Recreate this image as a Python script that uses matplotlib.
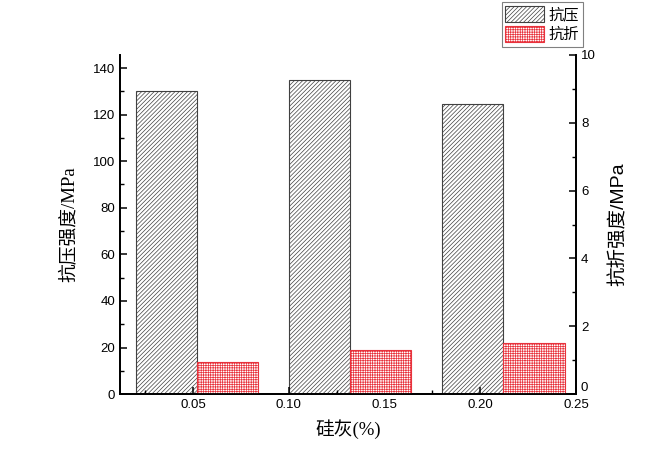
import numpy as np
import matplotlib.pyplot as plt
from matplotlib.ticker import MultipleLocator

plt.rcParams['font.family'] = ['Liberation Sans', 'Noto Sans CJK SC']
plt.rcParams['hatch.linewidth'] = 0.5

# data
silica = [0.052, 0.132, 0.212]          # group positions on the x axis
compressive = [130, 135, 124.5]         # MPa
flexural = [0.96, 1.30, 1.51]           # MPa
bar_w = 0.032

fig = plt.figure(figsize=(6.72, 4.72), dpi=100)
ax = fig.add_axes([0.1786, 0.165, 0.6786, 0.7185])
ax2 = ax.twinx()

x = np.array(silica)
b1 = ax.bar(x - bar_w / 2, compressive, width=bar_w, facecolor='white',
            edgecolor='#404040', hatch='////////', linewidth=0.8, label='抗压')
b2 = ax2.bar(x + bar_w / 2, flexural, width=bar_w, facecolor='white',
             edgecolor='#e8323c', hatch='+++++++', linewidth=0.8, label='抗折')

ax.set_xlim(0.0118, 0.25)
ax.set_ylim(0, 145.6)
ax2.set_ylim(0, 10)

ax.set_xticks([0.05, 0.10, 0.15, 0.20, 0.25])
ax.set_xticklabels(['0.05', '0.10', '0.15', '0.20', '0.25'])
ax.xaxis.set_minor_locator(MultipleLocator(0.025))
ax.set_yticks(range(0, 141, 20))
ax.yaxis.set_minor_locator(MultipleLocator(10))
ax2.set_yticks(range(0, 11, 2))
ax2.yaxis.set_minor_locator(MultipleLocator(1))

for a in (ax, ax2):
    a.spines['top'].set_visible(False)
    for s in a.spines.values():
        s.set_linewidth(1.3)
    a.tick_params(which='major', direction='in', length=5, width=1.1, labelsize=9.5)
    a.tick_params(which='minor', direction='in', length=3, width=1.0)
ax.tick_params(axis='x', which='both', top=False)

# the right-hand "0" sits a little higher in the original
ax2.yaxis.get_major_ticks()[0].label2.set_verticalalignment('bottom')

ax.set_ylabel('抗压强度/MPa', fontsize=13.5, family=['Liberation Serif', 'Noto Sans CJK SC'],
              labelpad=10)
ax2.set_ylabel('抗折强度/MPa', fontsize=14, labelpad=10)
ax.set_xlabel('硅灰(%)', fontsize=13.5, family=['Liberation Serif', 'Noto Sans CJK SC'],
              labelpad=6)

leg = fig.legend(handles=[b1, b2], loc='upper right', bbox_to_anchor=(0.868, 0.995),
                 frameon=True, fancybox=False, edgecolor='#606060',
                 handlelength=2.5, handleheight=1.2, handletextpad=0.35,
                 borderpad=0.25, labelspacing=0.2, borderaxespad=0,
                 prop={'family': ['Noto Sans CJK SC'], 'size': 11})
leg.get_frame().set_linewidth(0.8)

plt.savefig('out.png', dpi=100)
